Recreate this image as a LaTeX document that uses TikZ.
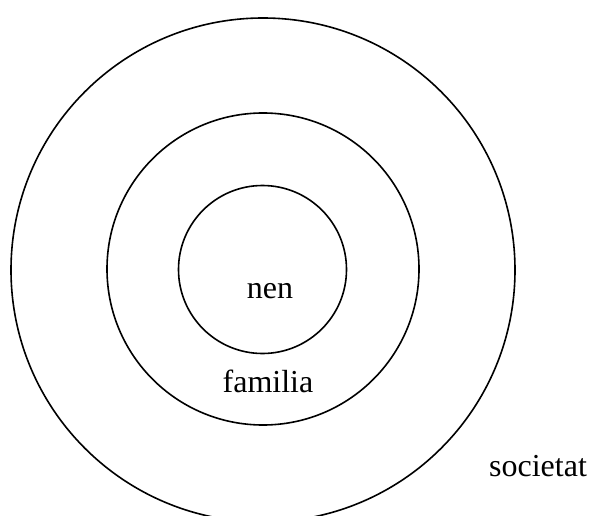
\documentclass[tikz,border=0pt]{standalone}
\usepackage{fontspec}
\setmainfont{Liberation Serif}
\begin{document}
\begin{tikzpicture}[x=1pt,y=-1pt,
  ring/.style={draw=black, line width=1.6pt},
  lbl/.style={anchor=base, inner sep=0pt, font=\fontsize{32}{38}\selectfont}]
\useasboundingbox (0,0) rectangle (589,516);
\clip (0,0) rectangle (589,516);
\draw[ring] (263,270) circle[radius=252];
\draw[ring] (263,269) circle[radius=156];
\draw[ring] (262.5,269.5) circle[radius=84];
\node[lbl] (nen) at (270,298) {nen};
\node[lbl] (familia) at (268,392) {familia};
\node[lbl] (societat) at (538,476) {societat};
\end{tikzpicture}
\end{document}
